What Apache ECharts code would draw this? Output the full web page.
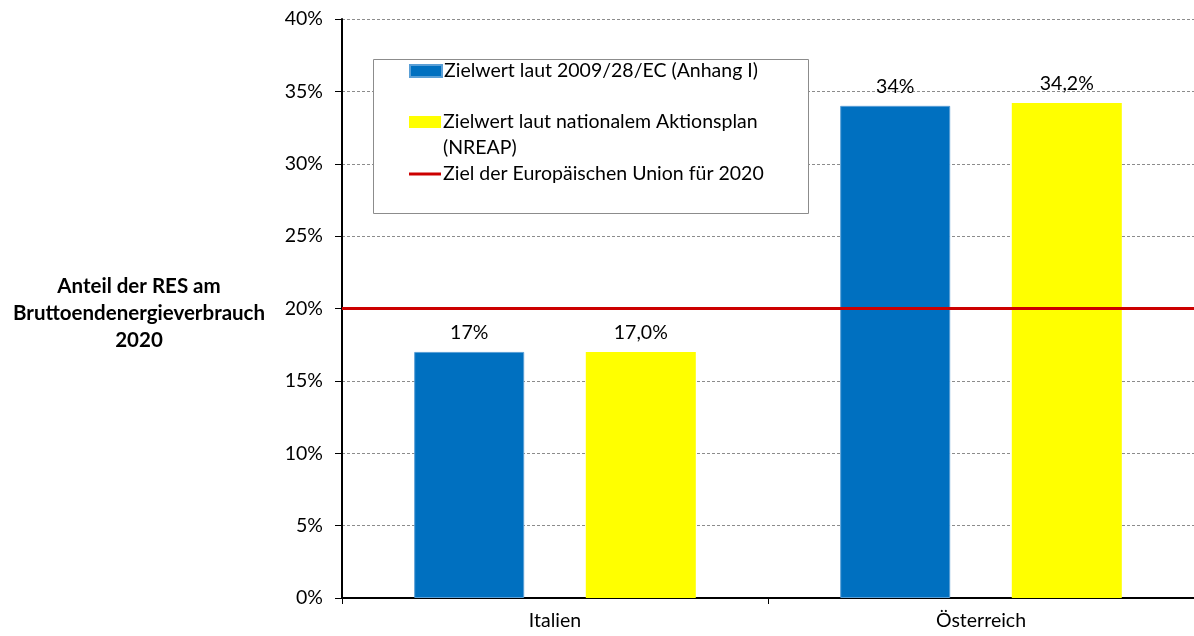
<!DOCTYPE html>
<html>
<head>
<meta charset="utf-8">
<script src="https://cdn.jsdelivr.net/npm/echarts@6/dist/echarts.min.js"></script>
<style>
  html, body { margin: 0; padding: 0; background: #fff; }
  #chart { width: 1194px; height: 636px; }
</style>
</head>
<body>
<div id="chart"></div>
<script>
// Renewable share of gross final energy consumption, targets for 2020
const categories = ['Italien', 'Österreich'];
const directiveTargets = [17, 34];     // Zielwert laut 2009/28/EC (Anhang I)
const nreapTargets = [17.0, 34.2];     // Zielwert laut nationalem Aktionsplan (NREAP)
const euTarget = 20;                   // Ziel der Europäischen Union für 2020
const yTicks = { min: 0, max: 40, interval: 5 };

const seriesNames = [
  'Zielwert laut 2009/28/EC (Anhang I)',
  'Zielwert laut nationalem Aktionsplan (NREAP)',
  'Ziel der Europäischen Union für 2020'
];

const FONT = 'Lato';
const FS = 19.5;
const chart = echarts.init(document.getElementById('chart'));

const legendText = { fontFamily: FONT, fontSize: FS, color: '#000', lineHeight: 26, padding: [0, 0, 0, -3] };

// Swatch drawn at the top of a taller icon box so it lines up with the first text line
const topSwatch = 'path://M0,0h32v12h-32z M0,38h32';

chart.setOption({
  animation: false,
  backgroundColor: '#fff',
  textStyle: { fontFamily: FONT },
  title: {
    text: 'Anteil der RES am\nBruttoendenergieverbrauch\n2020',
    left: 139,
    top: 273,
    padding: 0,
    textAlign: 'center',
    textStyle: { fontFamily: FONT, fontSize: 20.5, fontWeight: 'bold', color: '#000', lineHeight: 27, align: 'center' }
  },
  graphic: [{
    type: 'rect',
    z: 3,
    shape: { x: 373.5, y: 59.5, width: 435, height: 154 },
    style: { fill: '#fff', stroke: '#8c8c8c', lineWidth: 1 }
  }],
  legend: [
    {
      data: [seriesNames[0]], left: 409, top: 58, padding: 0, z: 5,
      itemWidth: 32, itemHeight: 12, icon: 'rect',
      textStyle: legendText, selectedMode: false
    },
    {
      data: [seriesNames[1]], left: 409, top: 109, padding: 0, z: 5,
      itemWidth: 32, itemHeight: 38, icon: topSwatch,
      formatter: () => 'Zielwert laut nationalem Aktionsplan\n(NREAP)',
      textStyle: legendText,
      selectedMode: false
    },
    {
      data: [seriesNames[2]], left: 409, top: 161, padding: 0, z: 5,
      itemWidth: 32, itemHeight: 3, icon: 'rect',
      textStyle: legendText, selectedMode: false
    }
  ],
  grid: { left: 342, right: 0, top: 19, bottom: 38, containLabel: false },
  xAxis: {
    type: 'category',
    data: categories,
    axisLine: { lineStyle: { color: '#000', width: 2 } },
    axisTick: { show: true, length: 6, lineStyle: { color: '#000', width: 1 } },
    axisLabel: { fontFamily: FONT, fontSize: FS, color: '#000', margin: 13 }
  },
  yAxis: {
    type: 'value',
    min: yTicks.min, max: yTicks.max, interval: yTicks.interval,
    axisLine: { show: true, lineStyle: { color: '#000', width: 2 } },
    axisTick: { show: true, length: 7, lineStyle: { color: '#000', width: 1 } },
    axisLabel: { fontFamily: FONT, fontSize: FS, color: '#000', margin: 19, formatter: '{value}%' },
    splitLine: { show: true, lineStyle: { color: '#8c8c8c', type: [3, 2], width: 1 } }
  },
  series: [
    {
      name: seriesNames[0],
      type: 'bar',
      data: directiveTargets,
      barWidth: 110,
      barGap: '56%',
      itemStyle: { color: '#0070C0', borderColor: '#5a9fd6', borderWidth: 1 },
      label: {
        show: true, position: 'top', distance: 9,
        fontFamily: FONT, fontSize: FS, color: '#000',
        formatter: p => p.value + '%'
      }
    },
    {
      name: seriesNames[1],
      type: 'bar',
      data: nreapTargets,
      barWidth: 110,
      itemStyle: { color: '#FFFF00' },
      label: {
        show: true, position: 'top', distance: 9,
        fontFamily: FONT, fontSize: FS, color: '#000',
        formatter: p => p.value.toFixed(1).replace('.', ',') + '%'
      }
    },
    {
      name: seriesNames[2],
      type: 'line',
      data: [],
      itemStyle: { color: '#CC0000' },
      lineStyle: { color: '#CC0000', width: 3 },
      markLine: {
        silent: true,
        symbol: 'none',
        z: 6,
        label: { show: false },
        lineStyle: { color: '#CC0000', width: 3, type: 'solid' },
        data: [{ yAxis: euTarget }]
      }
    }
  ]
});
</script>
</body>
</html>
